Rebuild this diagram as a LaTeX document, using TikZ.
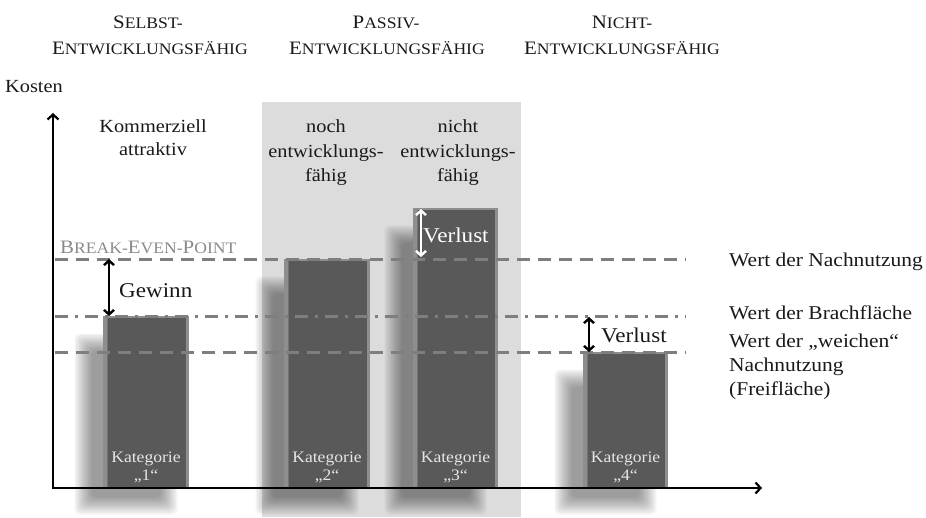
\documentclass[tikz,border=0pt]{standalone}
\usepackage{fontspec}
\setmainfont{Liberation Serif}[FakeStretch=1.1]
\usetikzlibrary{arrows.meta}

\definecolor{panelgray}{HTML}{DCDCDC}
\definecolor{bargray}{HTML}{595959}
\definecolor{baredge}{HTML}{8E8E8E}
\definecolor{refline}{HTML}{7E7E7E}
\definecolor{bepgray}{HTML}{8A8A8A}
\definecolor{katwhite}{HTML}{E6E6E6}

% capital initial followed by smaller capitals
\newcommand\capsinit[2]{{\fontsize{19}{20}\selectfont #1}{\fontsize{16}{17}\selectfont #2}}

\begin{document}
\begin{tikzpicture}[x=1pt,y=-1pt,
  txt/.style={inner sep=0pt, anchor=base, text=black!90, font=\fontsize{18.5}{22}\selectfont},
  lbl/.style={txt, anchor=base west, font=\fontsize{19.5}{22}\selectfont},
  big/.style={txt, anchor=base west, font=\fontsize{21}{24}\selectfont},
  kat/.style={inner sep=0pt, anchor=base, text=katwhite, font=\fontsize{16}{18}\selectfont},
  barbox/.style={fill=baredge, inner sep=0pt, anchor=south west},
  refdash/.style={draw=refline, line width=3pt, dash pattern=on 13pt off 8pt},
  refdashdot/.style={draw=refline, line width=3pt, dash pattern=on 13pt off 7pt on 3pt off 7pt},
  axis/.style={line width=2.2pt, {Straight Barb[length=5pt,width=11pt]}-{Straight Barb[length=5pt,width=11pt]}},
  gap/.style={line width=2.4pt, {Straight Barb[length=4.5pt,width=10pt]}-{Straight Barb[length=4.5pt,width=10pt]}}
]
\useasboundingbox (0,0) rectangle (926,517);

% background of the two middle categories
\fill[panelgray] (262,102) rectangle (521,517);

% headers
\node[txt] (h1a) at (148,28) {\capsinit{S}{ELBST-}};
\node[txt] (h1b) at (150,54) {\capsinit{E}{NTWICKLUNGSFÄHIG}};
\node[txt] (h2a) at (386,28) {\capsinit{P}{ASSIV-}};
\node[txt] (h2b) at (387,54) {\capsinit{E}{NTWICKLUNGSFÄHIG}};
\node[txt] (h3a) at (622,28) {\capsinit{N}{ICHT-}};
\node[txt] (h3b) at (622,54) {\capsinit{E}{NTWICKLUNGSFÄHIG}};

\node[txt, anchor=base west] (kosten) at (5,92) {Kosten};

% soft shadows of the bars
\foreach \xa/\xb/\top in {103/189/316, 284/370/259, 413/498/208, 583/668/352}{
  \foreach \k in {0,...,10}{
    \pgfmathsetmacro\d{(\k-5)*1.7}
    \fill[black, opacity=0.042, rounded corners=5pt]
      (\xa-20+\d, \top+26+\d) rectangle (\xb-20-\d, 506-\d);
  }
}

% bars
\foreach \n/\xa/\xb/\top in {1/103/189/316, 2/284/370/259, 3/413/498/208, 4/583/668/352}{
  \node[barbox, minimum width=\xb-\xa, minimum height=487-\top] (bar\n) at (\xa,487) {};
  \fill[bargray] ([xshift=3.5pt,yshift=-2pt]bar\n.north west) rectangle ([xshift=-3.5pt]bar\n.south east);
  \draw[black!55, line width=0.6pt] ([xshift=3.8pt,yshift=-2pt]bar\n.north west) -- ([xshift=3.8pt]bar\n.south west);
  \node[kat] (kat\n) at ({(\xa+\xb)/2},462) {Kategorie};
  \node[kat] (num\n) at ({(\xa+\xb)/2},480) {„\n“};
}

% reference levels
\coordinate (nn-l) at (55,259);  \coordinate (nn-r) at (686,259);
\coordinate (bf-l) at (55,316);  \coordinate (bf-r) at (686,316);
\coordinate (wn-l) at (55,352);  \coordinate (wn-r) at (686,352);
\draw[refdash] (nn-l) -- (nn-r);
\draw[refdashdot] (bf-l) -- (bf-r);
\draw[refdash] (wn-l) -- (wn-r);

\node[lbl] (wnach) at (729,266) {Wert der Nachnutzung};
\node[lbl] (wbrach) at (729,319) {Wert der Brachfläche};
\node[lbl] (wweich1) at (729,347) {Wert der „weichen“};
\node[lbl] (wweich2) at (729,371) {Nachnutzung};
\node[lbl] (wweich3) at (729,395) {(Freifläche)};

\node[txt, anchor=base west, text=bepgray] (bep) at (60,253)
  {\capsinit{B}{REAK-}\capsinit{E}{VEN-}\capsinit{P}{OINT}};

% axes
\coordinate (ytip) at (53,113);
\coordinate (origin) at (53,488);
\coordinate (xtip) at (762,488);
\draw[axis, line join=miter] (ytip) -- (origin) -- (xtip);

% category descriptions
\node[txt] (k1a) at (153,132) {Kommerziell};
\node[txt] (k1b) at (153,155) {attraktiv};
\node[txt] (k2a) at (326,132) {noch};
\node[txt] (k2b) at (326,157) {entwicklungs-};
\node[txt] (k2c) at (326,181) {fähig};
\node[txt] (k3a) at (458,132) {nicht};
\node[txt] (k3b) at (458,157) {entwicklungs-};
\node[txt] (k3c) at (458,181) {fähig};

% gains and losses
\coordinate (g-top) at (109,259); \coordinate (g-bot) at (109,316);
\draw[gap] (g-top) -- (g-bot);
\node[big] (gewinn) at (119,297) {Gewinn};

\coordinate (v3-top) at (421,209); \coordinate (v3-bot) at (421,257);
\draw[gap, white] (v3-top) -- (v3-bot);
\node[big, text=white] (verlust3) at (423,242) {Verlust};

\coordinate (v4-top) at (589,317); \coordinate (v4-bot) at (589,352);
\draw[gap] (v4-top) -- (v4-bot);
\node[big] (verlust4) at (601,342) {Verlust};
\end{tikzpicture}
\end{document}
